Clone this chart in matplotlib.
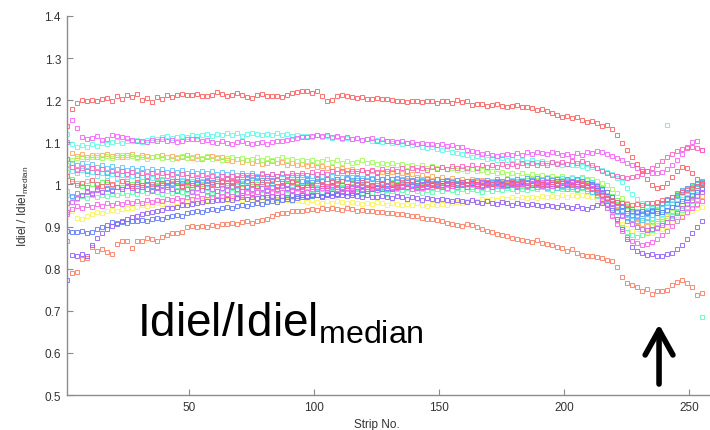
#!/usr/bin/env python3

import colorsys

import matplotlib

matplotlib.use("Agg")
import matplotlib.pyplot as plt
import numpy as np


# strips are sampled every second channel: 1, 3, ..., 255
STRIPS = np.arange(1, 257, 2)

RED_TOP = [
	1.139, 1.180, 1.193, 1.200, 1.198, 1.201, 1.199, 1.203, 1.206, 1.199, 1.210, 1.204, 1.212, 1.207, 1.214, 1.200,
	1.205, 1.196, 1.208, 1.203, 1.212, 1.208, 1.213, 1.214, 1.212, 1.213, 1.214, 1.211, 1.209, 1.213, 1.220, 1.214,
	1.210, 1.212, 1.216, 1.213, 1.208, 1.206, 1.212, 1.215, 1.209, 1.210, 1.211, 1.208, 1.213, 1.218, 1.220, 1.222,
	1.222, 1.218, 1.221, 1.209, 1.198, 1.201, 1.210, 1.213, 1.211, 1.207, 1.206, 1.208, 1.204, 1.203, 1.205, 1.202,
	1.203, 1.201, 1.198, 1.197, 1.196, 1.198, 1.199, 1.196, 1.197, 1.198, 1.194, 1.197, 1.199, 1.193, 1.200, 1.196,
	1.197, 1.189, 1.192, 1.190, 1.186, 1.188, 1.192, 1.187, 1.184, 1.186, 1.188, 1.183, 1.185, 1.182, 1.177, 1.179,
	1.174, 1.170, 1.166, 1.160, 1.162, 1.157, 1.161, 1.153, 1.149, 1.151, 1.146, 1.139, 1.141, 1.131, 1.118, 1.098,
	1.082, 1.065, 1.048, 1.031, 1.012, 0.998, 0.991, 0.993, 1.004, 1.018, 1.031, 1.042, 1.038, 1.026, 1.012, 1.004,
]

ORANGE_LOW = [
	0.866, 0.790, 0.792, 0.822, 0.826, 0.851, 0.842, 0.846, 0.840, 0.835, 0.858, 0.866, 0.865, 0.849, 0.866, 0.866,
	0.873, 0.870, 0.866, 0.875, 0.880, 0.885, 0.884, 0.887, 0.899, 0.901, 0.898, 0.902, 0.899, 0.904, 0.902, 0.905,
	0.906, 0.908, 0.907, 0.911, 0.913, 0.909, 0.912, 0.916, 0.919, 0.925, 0.930, 0.933, 0.931, 0.936, 0.938, 0.937,
	0.939, 0.941, 0.940, 0.943, 0.941, 0.944, 0.942, 0.940, 0.943, 0.941, 0.938, 0.940, 0.937, 0.936, 0.934, 0.935,
	0.933, 0.931, 0.929, 0.930, 0.927, 0.925, 0.926, 0.921, 0.918, 0.919, 0.915, 0.912, 0.909, 0.906, 0.904, 0.902,
	0.906, 0.903, 0.898, 0.894, 0.890, 0.887, 0.882, 0.879, 0.877, 0.873, 0.870, 0.868, 0.866, 0.864, 0.867, 0.862,
	0.858, 0.855, 0.851, 0.848, 0.843, 0.846, 0.838, 0.832, 0.829, 0.830, 0.828, 0.826, 0.820, 0.818, 0.805, 0.780,
	0.766, 0.761, 0.756, 0.747, 0.752, 0.740, 0.747, 0.747, 0.749, 0.761, 0.768, 0.773, 0.766, 0.756, 0.737, 0.742,
]

MAGENTA_HI = [
	1.100, 1.153, 1.134, 1.112, 1.108, 1.110, 1.114, 1.106, 1.109, 1.118, 1.116, 1.112, 1.110, 1.106, 1.102, 1.104,
	1.101, 1.106, 1.104, 1.108, 1.103, 1.105, 1.100, 1.103, 1.107, 1.109, 1.108, 1.104, 1.106, 1.101, 1.098, 1.103,
	1.099, 1.096, 1.100, 1.102, 1.098, 1.095, 1.099, 1.101, 1.097, 1.100, 1.104, 1.102, 1.106, 1.108, 1.111, 1.113,
	1.112, 1.115, 1.117, 1.114, 1.118, 1.112, 1.116, 1.110, 1.113, 1.109, 1.111, 1.106, 1.108, 1.110, 1.104, 1.107,
	1.103, 1.104, 1.100, 1.102, 1.098, 1.101, 1.096, 1.099, 1.095, 1.097, 1.093, 1.095, 1.091, 1.094, 1.090, 1.088,
	1.082, 1.079, 1.076, 1.073, 1.075, 1.071, 1.068, 1.070, 1.072, 1.069, 1.074, 1.071, 1.076, 1.073, 1.078, 1.075,
	1.072, 1.077, 1.074, 1.070, 1.073, 1.068, 1.075, 1.071, 1.078, 1.074, 1.080, 1.076, 1.072, 1.068, 1.063, 1.058,
	1.051, 1.046, 1.040, 1.036, 1.031, 1.028, 1.026, 1.030, 1.036, 1.045, 1.058, 1.072, 1.088, 1.100, 1.104, 1.082,
]

CYAN_HI = [
	1.120, 1.095, 1.090, 1.093, 1.088, 1.096, 1.092, 1.099, 1.097, 1.101, 1.103, 1.099, 1.104, 1.102, 1.106, 1.101,
	1.106, 1.110, 1.108, 1.112, 1.115, 1.110, 1.113, 1.116, 1.112, 1.118, 1.114, 1.117, 1.119, 1.115, 1.120, 1.117,
	1.121, 1.118, 1.122, 1.116, 1.119, 1.123, 1.120, 1.117, 1.120, 1.118, 1.121, 1.117, 1.119, 1.116, 1.118, 1.114,
	1.116, 1.113, 1.117, 1.112, 1.114, 1.110, 1.113, 1.109, 1.111, 1.107, 1.110, 1.105, 1.107, 1.103, 1.106, 1.101,
	1.103, 1.099, 1.101, 1.096, 1.098, 1.093, 1.095, 1.090, 1.087, 1.089, 1.084, 1.081, 1.083, 1.078, 1.075, 1.072,
	1.070, 1.066, 1.068, 1.064, 1.061, 1.063, 1.059, 1.062, 1.058, 1.060, 1.056, 1.058, 1.054, 1.057, 1.053, 1.055,
	1.051, 1.054, 1.050, 1.047, 1.049, 1.045, 1.047, 1.043, 1.040, 1.042, 1.038, 1.034, 1.030, 1.024, 1.016, 1.006,
	0.992, 0.978, 0.966, 0.955, 0.948, 0.944, 0.941, 0.945, 0.949, 0.956, 0.962, 0.971, 0.979, 0.988, 0.996, 1.003,
]

LIME_HI = [
	1.040, 1.058, 1.062, 1.066, 1.060, 1.064, 1.069, 1.063, 1.067, 1.062, 1.066, 1.070, 1.064, 1.068, 1.063, 1.066,
	1.061, 1.065, 1.068, 1.063, 1.066, 1.061, 1.064, 1.068, 1.062, 1.065, 1.060, 1.063, 1.067, 1.061, 1.064, 1.059,
	1.062, 1.066, 1.060, 1.063, 1.058, 1.061, 1.065, 1.059, 1.062, 1.057, 1.060, 1.064, 1.058, 1.061, 1.056, 1.059,
	1.055, 1.058, 1.053, 1.056, 1.060, 1.054, 1.057, 1.052, 1.055, 1.050, 1.053, 1.057, 1.051, 1.054, 1.049, 1.052,
	1.048, 1.051, 1.046, 1.049, 1.044, 1.047, 1.042, 1.045, 1.040, 1.043, 1.038, 1.041, 1.036, 1.039, 1.034, 1.037,
	1.033, 1.036, 1.031, 1.034, 1.029, 1.032, 1.027, 1.030, 1.025, 1.028, 1.023, 1.026, 1.021, 1.024, 1.019, 1.022,
	1.018, 1.021, 1.016, 1.019, 1.014, 1.017, 1.012, 1.015, 1.010, 1.013, 1.008, 1.004, 0.998, 0.990, 0.979, 0.968,
	0.955, 0.944, 0.932, 0.921, 0.914, 0.910, 0.912, 0.918, 0.926, 0.935, 0.944, 0.952, 0.960, 0.968, 0.975, 0.983,
]

ORANGE_HI = [
	1.030, 1.075, 1.068, 1.072, 1.066, 1.070, 1.064, 1.069, 1.073, 1.067, 1.071, 1.065, 1.069, 1.072, 1.066, 1.070,
	1.068, 1.064, 1.067, 1.071, 1.065, 1.068, 1.062, 1.066, 1.069, 1.063, 1.067, 1.061, 1.064, 1.068, 1.062, 1.065,
	1.059, 1.056, 1.060, 1.054, 1.057, 1.051, 1.055, 1.049, 1.052, 1.056, 1.050, 1.053, 1.047, 1.051, 1.045, 1.048,
	1.043, 1.047, 1.041, 1.044, 1.038, 1.042, 1.036, 1.040, 1.034, 1.037, 1.031, 1.035, 1.029, 1.033, 1.027, 1.030,
	1.026, 1.029, 1.023, 1.027, 1.021, 1.024, 1.018, 1.022, 1.016, 1.020, 1.014, 1.017, 1.011, 1.015, 1.010, 1.013,
	1.009, 1.012, 1.006, 1.010, 1.004, 1.008, 1.002, 1.006, 1.000, 1.004, 0.998, 1.002, 0.996, 1.000, 0.994, 0.998,
	0.993, 0.997, 0.991, 0.995, 0.989, 0.993, 0.987, 0.991, 0.985, 0.989, 0.983, 0.978, 0.970, 0.960, 0.949, 0.938,
	0.927, 0.918, 0.911, 0.906, 0.902, 0.904, 0.908, 0.913, 0.920, 0.928, 0.936, 0.945, 0.953, 0.960, 0.966, 0.972,
]

BLUE_LOW = [
	0.890, 0.887, 0.886, 0.889, 0.884, 0.887, 0.893, 0.898, 0.904, 0.910, 0.907, 0.911, 0.909, 0.913, 0.912, 0.916,
	0.914, 0.918, 0.921, 0.919, 0.923, 0.925, 0.928, 0.926, 0.931, 0.934, 0.937, 0.935, 0.939, 0.942, 0.940, 0.944,
	0.946, 0.943, 0.948, 0.951, 0.949, 0.953, 0.956, 0.954, 0.958, 0.961, 0.959, 0.963, 0.966, 0.964, 0.968, 0.970,
	0.969, 0.972, 0.975, 0.973, 0.977, 0.979, 0.976, 0.981, 0.983, 0.980, 0.985, 0.987, 0.984, 0.989, 0.991, 0.988,
	0.992, 0.990, 0.994, 0.996, 0.993, 0.997, 0.999, 0.995, 1.000, 0.998, 1.002, 0.999, 1.003, 1.001, 0.998, 1.002,
	1.000, 1.004, 1.001, 0.997, 1.003, 1.000, 1.005, 1.002, 0.998, 1.004, 1.001, 1.006, 1.003, 0.999, 1.004, 1.001,
	1.005, 1.002, 0.998, 1.003, 1.000, 1.006, 1.002, 0.999, 1.004, 1.001, 0.996, 0.990, 0.981, 0.969, 0.958, 0.949,
	0.942, 0.937, 0.935, 0.938, 0.932, 0.936, 0.931, 0.934, 0.940, 0.946, 0.953, 0.961, 0.968, 0.975, 0.982, 0.990,
]

VIOLET_LOW = [
	0.772, 0.832, 0.830, 0.834, 0.829, 0.856, 0.872, 0.884, 0.893, 0.901, 0.908, 0.914, 0.918, 0.922, 0.925, 0.929,
	0.932, 0.935, 0.937, 0.940, 0.943, 0.945, 0.947, 0.950, 0.952, 0.954, 0.956, 0.958, 0.960, 0.961, 0.963, 0.964,
	0.966, 0.963, 0.967, 0.969, 0.966, 0.970, 0.968, 0.971, 0.969, 0.972, 0.970, 0.973, 0.971, 0.974, 0.972, 0.975,
	0.973, 0.976, 0.974, 0.971, 0.975, 0.973, 0.977, 0.974, 0.972, 0.976, 0.973, 0.970, 0.974, 0.971, 0.969, 0.973,
	0.970, 0.968, 0.972, 0.969, 0.966, 0.970, 0.967, 0.964, 0.968, 0.965, 0.962, 0.966, 0.963, 0.960, 0.964, 0.961,
	0.958, 0.962, 0.959, 0.956, 0.960, 0.957, 0.954, 0.958, 0.955, 0.952, 0.956, 0.953, 0.950, 0.954, 0.951, 0.948,
	0.952, 0.949, 0.946, 0.950, 0.947, 0.944, 0.948, 0.945, 0.942, 0.946, 0.950, 0.955, 0.951, 0.940, 0.918, 0.893,
	0.870, 0.852, 0.843, 0.838, 0.833, 0.836, 0.831, 0.829, 0.834, 0.838, 0.846, 0.857, 0.871, 0.885, 0.899, 0.912,
]

YELLOW_MID = [
	0.945, 0.936, 0.921, 0.918, 0.926, 0.930, 0.934, 0.931, 0.936, 0.940, 0.938, 0.942, 0.945, 0.943, 0.947, 0.950,
	0.948, 0.952, 0.955, 0.953, 0.957, 0.955, 0.959, 0.961, 0.958, 0.962, 0.960, 0.964, 0.962, 0.965, 0.963, 0.966,
	0.964, 0.967, 0.965, 0.962, 0.966, 0.963, 0.967, 0.964, 0.961, 0.965, 0.962, 0.966, 0.963, 0.960, 0.964, 0.961,
	0.958, 0.962, 0.959, 0.956, 0.960, 0.957, 0.961, 0.958, 0.955, 0.959, 0.956, 0.953, 0.957, 0.954, 0.958, 0.955,
	0.952, 0.956, 0.953, 0.950, 0.954, 0.951, 0.955, 0.952, 0.949, 0.953, 0.950, 0.954, 0.951, 0.955, 0.958, 0.956,
	0.960, 0.963, 0.961, 0.965, 0.962, 0.966, 0.964, 0.968, 0.965, 0.969, 0.966, 0.970, 0.967, 0.971, 0.968, 0.972,
	0.969, 0.973, 0.970, 0.974, 0.971, 0.975, 0.972, 0.976, 0.973, 0.970, 0.966, 0.958, 0.946, 0.931, 0.917, 0.905,
	0.896, 0.889, 0.884, 0.881, 0.886, 0.884, 0.889, 0.894, 0.901, 0.910, 0.918, 0.926, 0.933, 0.938, 0.943, 0.947,
]

GREEN_MID = [
	0.985, 1.012, 1.004, 0.996, 1.008, 1.001, 0.993, 1.006, 1.011, 0.999, 1.003, 0.995, 1.009, 1.002, 0.997, 1.007,
	1.001, 0.994, 1.005, 1.010, 0.998, 1.003, 0.996, 1.008, 1.002, 0.995, 1.006, 1.000, 0.993, 1.004, 1.009, 0.998,
	1.003, 0.997, 1.008, 1.001, 0.995, 1.006, 1.000, 1.010, 0.998, 1.004, 0.996, 1.007, 1.002, 0.994, 1.005, 0.999,
	1.006, 1.001, 0.995, 1.008, 1.003, 0.997, 1.009, 1.002, 0.996, 1.005, 1.010, 0.999, 1.004, 0.998, 1.007, 1.001,
	0.996, 1.006, 1.002, 0.995, 1.008, 1.001, 0.997, 1.005, 1.009, 0.999, 1.003, 0.996, 1.007, 1.002, 0.998, 1.006,
	1.001, 0.995, 1.007, 1.003, 0.998, 1.009, 1.002, 0.996, 1.005, 1.000, 1.008, 0.997, 1.003, 1.007, 0.999, 1.004,
	0.998, 1.005, 1.001, 0.996, 1.007, 1.002, 0.997, 1.004, 0.999, 1.006, 0.995, 0.991, 0.982, 0.972, 0.963, 0.955,
	0.948, 0.942, 0.938, 0.941, 0.936, 0.943, 0.948, 0.955, 0.962, 0.970, 0.978, 0.985, 0.991, 0.997, 1.002, 1.006,
]

CYAN_MID = [
	1.045, 1.032, 1.028, 1.035, 1.024, 1.030, 1.021, 1.027, 1.019, 1.025, 1.016, 1.022, 1.014, 1.020, 1.012, 1.018,
	1.010, 1.016, 1.008, 1.014, 1.006, 1.012, 1.004, 1.010, 1.003, 1.009, 1.001, 1.007, 1.000, 1.006, 0.998, 1.005,
	0.999, 1.004, 0.997, 1.003, 0.996, 1.002, 0.995, 1.001, 0.994, 1.000, 0.993, 0.999, 0.992, 0.998, 0.991, 0.997,
	0.993, 0.998, 0.991, 0.997, 0.990, 0.996, 0.989, 0.995, 0.988, 0.994, 0.990, 0.996, 0.989, 0.995, 0.991, 0.997,
	0.992, 0.998, 0.993, 0.999, 0.994, 1.000, 0.995, 1.001, 0.996, 1.002, 0.997, 1.003, 0.998, 1.004, 0.999, 1.005,
	1.000, 1.006, 1.001, 1.007, 1.002, 1.008, 1.003, 1.009, 1.004, 1.010, 1.005, 1.011, 1.006, 1.012, 1.007, 1.013,
	1.008, 1.014, 1.009, 1.015, 1.010, 1.016, 1.011, 1.017, 1.012, 1.006, 0.998, 0.987, 0.975, 0.962, 0.951, 0.940,
	0.931, 0.924, 0.918, 0.915, 0.913, 0.917, 0.922, 0.929, 0.938, 0.947, 0.957, 0.966, 0.974, 0.981, 0.987, 0.992,
]

BLUE_MID = [
	0.955, 0.972, 0.980, 0.975, 0.984, 0.979, 0.988, 0.983, 0.991, 0.986, 0.994, 0.989, 0.997, 0.992, 1.000, 0.995,
	1.002, 0.997, 1.004, 0.999, 1.006, 1.001, 1.008, 1.003, 1.009, 1.004, 1.010, 1.005, 1.011, 1.006, 1.012, 1.007,
	1.013, 1.008, 1.014, 1.009, 1.015, 1.010, 1.016, 1.011, 1.015, 1.010, 1.014, 1.009, 1.013, 1.008, 1.012, 1.007,
	1.011, 1.006, 1.012, 1.007, 1.013, 1.008, 1.014, 1.009, 1.015, 1.010, 1.016, 1.011, 1.017, 1.012, 1.018, 1.013,
	1.017, 1.012, 1.016, 1.011, 1.015, 1.010, 1.014, 1.009, 1.013, 1.008, 1.012, 1.007, 1.011, 1.006, 1.010, 1.005,
	1.009, 1.004, 1.010, 1.005, 1.011, 1.006, 1.012, 1.007, 1.013, 1.008, 1.014, 1.009, 1.015, 1.010, 1.016, 1.011,
	1.015, 1.010, 1.014, 1.009, 1.013, 1.008, 1.012, 1.007, 1.003, 0.996, 0.987, 0.976, 0.965, 0.955, 0.946, 0.938,
	0.932, 0.928, 0.925, 0.929, 0.934, 0.940, 0.947, 0.955, 0.963, 0.971, 0.979, 0.986, 0.992, 0.998, 1.003, 1.008,
]

PURPLE_MID = [
	0.935, 0.958, 0.968, 0.975, 0.981, 0.978, 0.986, 0.982, 0.990, 0.985, 0.993, 0.988, 0.996, 0.991, 0.987, 0.994,
	0.989, 0.984, 0.992, 0.987, 0.995, 0.990, 0.985, 0.993, 0.988, 0.983, 0.991, 0.986, 0.994, 0.989, 0.984, 0.992,
	0.987, 0.995, 0.990, 0.985, 0.993, 0.988, 0.996, 0.991, 0.986, 0.994, 0.989, 0.997, 0.992, 0.987, 0.995, 0.990,
	0.998, 0.993, 0.988, 0.996, 0.991, 0.999, 0.994, 0.989, 0.997, 0.992, 1.000, 0.995, 0.990, 0.998, 0.993, 1.001,
	0.996, 0.991, 0.999, 0.994, 1.002, 0.997, 0.992, 1.000, 0.995, 1.003, 0.998, 0.993, 1.001, 0.996, 1.004, 0.999,
	0.994, 1.002, 0.997, 1.005, 1.000, 0.995, 1.003, 0.998, 1.006, 1.001, 0.996, 1.004, 0.999, 1.007, 1.002, 0.997,
	1.005, 1.000, 1.008, 1.003, 0.998, 1.006, 1.001, 1.009, 1.004, 0.999, 0.992, 0.981, 0.968, 0.953, 0.938, 0.925,
	0.914, 0.905, 0.899, 0.894, 0.891, 0.893, 0.897, 0.903, 0.911, 0.921, 0.932, 0.943, 0.954, 0.964, 0.973, 0.981,
]

PINK_MID = [
	1.060, 1.042, 1.035, 1.040, 1.032, 1.038, 1.029, 1.036, 1.027, 1.033, 1.025, 1.031, 1.024, 1.030, 1.022, 1.028,
	1.021, 1.027, 1.020, 1.026, 1.019, 1.025, 1.018, 1.024, 1.017, 1.023, 1.016, 1.022, 1.015, 1.021, 1.014, 1.020,
	1.015, 1.021, 1.016, 1.022, 1.017, 1.023, 1.018, 1.024, 1.019, 1.025, 1.020, 1.026, 1.021, 1.027, 1.022, 1.028,
	1.023, 1.029, 1.024, 1.030, 1.025, 1.031, 1.026, 1.032, 1.027, 1.033, 1.028, 1.034, 1.029, 1.035, 1.030, 1.036,
	1.031, 1.037, 1.032, 1.038, 1.033, 1.039, 1.034, 1.040, 1.035, 1.041, 1.036, 1.042, 1.037, 1.043, 1.038, 1.044,
	1.039, 1.045, 1.040, 1.046, 1.041, 1.047, 1.042, 1.048, 1.043, 1.049, 1.044, 1.050, 1.045, 1.051, 1.046, 1.052,
	1.047, 1.053, 1.048, 1.054, 1.049, 1.055, 1.050, 1.056, 1.051, 1.046, 1.040, 1.033, 1.027, 1.022, 1.019, 1.017,
	1.016, 1.018, 1.021, 1.025, 1.031, 1.038, 1.046, 1.055, 1.064, 1.072, 1.079, 1.084, 1.087, 1.088, 1.086, 1.081,
]

RED_MID = [
	1.020, 1.008, 0.998, 1.004, 0.995, 1.010, 1.002, 0.997, 1.006, 1.000, 0.994, 1.008, 1.003, 0.996, 1.005, 0.999,
	1.007, 1.001, 0.995, 1.004, 0.998, 1.009, 1.003, 0.997, 1.006, 0.999, 1.004, 0.996, 1.008, 1.002, 0.998, 1.005,
	0.999, 1.006, 1.001, 0.995, 1.008, 1.002, 0.997, 1.005, 1.000, 1.007, 0.996, 1.003, 0.998, 1.006, 1.001, 0.995,
	1.004, 0.999, 1.007, 1.002, 0.996, 1.005, 1.001, 1.008, 0.997, 1.003, 0.999, 1.006, 1.002, 0.996, 1.004, 1.000,
	1.007, 1.002, 0.997, 1.005, 1.000, 1.008, 1.003, 0.998, 1.006, 1.001, 0.996, 1.004, 1.009, 1.002, 0.998, 1.005,
	1.001, 1.007, 1.002, 0.998, 1.006, 1.001, 1.009, 1.003, 0.999, 1.005, 1.000, 1.008, 1.004, 0.998, 1.006, 1.002,
	0.999, 1.006, 1.001, 1.008, 1.003, 0.998, 1.005, 1.000, 0.996, 0.990, 0.983, 0.975, 0.968, 0.962, 0.958, 0.955,
	0.953, 0.951, 0.954, 0.952, 0.956, 0.955, 0.959, 0.962, 0.966, 0.971, 0.976, 0.982, 0.987, 0.992, 0.996, 1.000,
]

SPRING_MID = [
	0.975, 0.969, 0.966, 0.972, 0.968, 0.974, 0.970, 0.976, 0.972, 0.978, 0.974, 0.980, 0.976, 0.982, 0.978, 0.984,
	0.980, 0.986, 0.982, 0.978, 0.984, 0.980, 0.986, 0.982, 0.978, 0.984, 0.980, 0.986, 0.982, 0.978, 0.984, 0.980,
	0.976, 0.982, 0.978, 0.974, 0.980, 0.976, 0.982, 0.978, 0.974, 0.980, 0.976, 0.982, 0.978, 0.974, 0.980, 0.976,
	0.982, 0.978, 0.974, 0.980, 0.976, 0.982, 0.978, 0.984, 0.980, 0.976, 0.982, 0.978, 0.984, 0.980, 0.986, 0.982,
	0.978, 0.984, 0.980, 0.986, 0.982, 0.988, 0.984, 0.980, 0.986, 0.982, 0.988, 0.984, 0.990, 0.986, 0.982, 0.988,
	0.984, 0.990, 0.986, 0.982, 0.988, 0.984, 0.990, 0.986, 0.992, 0.988, 0.984, 0.990, 0.986, 0.992, 0.988, 0.994,
	0.990, 0.986, 0.992, 0.988, 0.994, 0.990, 0.986, 0.992, 0.988, 0.982, 0.973, 0.960, 0.945, 0.928, 0.912, 0.898,
	0.888, 0.880, 0.876, 0.879, 0.884, 0.891, 0.899, 0.908, 1.141, 0.926, 0.934, 0.940, 0.946, 0.950, 0.952, 0.685,
]

AZURE_MID = [
	1.060, 1.052, 1.046, 1.050, 1.043, 1.048, 1.041, 1.046, 1.039, 1.044, 1.037, 1.042, 1.035, 1.040, 1.034, 1.038,
	1.032, 1.037, 1.031, 1.036, 1.030, 1.035, 1.029, 1.034, 1.028, 1.033, 1.027, 1.032, 1.026, 1.031, 1.025, 1.030,
	1.024, 1.029, 1.023, 1.028, 1.022, 1.027, 1.021, 1.026, 1.020, 1.025, 1.019, 1.024, 1.018, 1.023, 1.017, 1.022,
	1.016, 1.021, 1.015, 1.020, 1.014, 1.019, 1.013, 1.018, 1.012, 1.017, 1.011, 1.016, 1.010, 1.015, 1.009, 1.014,
	1.008, 1.013, 1.007, 1.012, 1.006, 1.011, 1.005, 1.010, 1.004, 1.009, 1.003, 1.008, 1.002, 1.007, 1.001, 1.006,
	1.000, 1.005, 0.999, 1.004, 0.998, 1.003, 0.997, 1.002, 0.996, 1.001, 0.995, 1.000, 0.994, 0.999, 0.993, 0.998,
	0.992, 0.997, 0.991, 0.996, 0.990, 0.995, 0.989, 0.994, 0.988, 0.982, 0.974, 0.964, 0.953, 0.943, 0.934, 0.927,
	0.921, 0.917, 0.914, 0.916, 0.921, 0.928, 0.936, 0.945, 0.955, 0.964, 0.973, 0.981, 0.988, 0.995, 1.001, 1.006,
]

MAGENTA_MID = [
	0.930, 0.942, 0.948, 0.944, 0.951, 0.947, 0.953, 0.949, 0.955, 0.951, 0.957, 0.953, 0.959, 0.955, 0.961, 0.957,
	0.962, 0.958, 0.964, 0.960, 0.966, 0.962, 0.968, 0.964, 0.970, 0.966, 0.972, 0.968, 0.974, 0.970, 0.976, 0.972,
	0.977, 0.973, 0.979, 0.975, 0.981, 0.977, 0.983, 0.979, 0.985, 0.981, 0.987, 0.983, 0.989, 0.985, 0.991, 0.987,
	0.983, 0.989, 0.985, 0.991, 0.987, 0.993, 0.989, 0.985, 0.991, 0.987, 0.993, 0.989, 0.995, 0.991, 0.987, 0.993,
	0.989, 0.995, 0.991, 0.997, 0.993, 0.989, 0.995, 0.991, 0.997, 0.993, 0.999, 0.995, 0.991, 0.997, 0.993, 0.999,
	0.995, 1.001, 0.997, 0.993, 0.999, 0.995, 1.001, 0.997, 1.003, 0.999, 0.995, 1.001, 0.997, 1.003, 0.999, 1.005,
	1.001, 0.997, 1.003, 0.999, 1.005, 1.001, 0.997, 1.003, 0.999, 0.991, 0.979, 0.963, 0.944, 0.924, 0.905, 0.889,
	0.876, 0.866, 0.860, 0.857, 0.859, 0.864, 0.871, 0.880, 0.890, 0.901, 0.912, 0.923, 0.934, 0.944, 0.953, 0.961,
]

# (values, hue) pairs, hue in [0, 1) on the hsv wheel
SERIES = [
	(ORANGE_LOW, 0.03),
	(ORANGE_HI, 0.08),
	(YELLOW_MID, 0.16),
	(LIME_HI, 0.26),
	(GREEN_MID, 0.33),
	(SPRING_MID, 0.42),
	(CYAN_HI, 0.48),
	(CYAN_MID, 0.52),
	(AZURE_MID, 0.56),
	(BLUE_MID, 0.60),
	(BLUE_LOW, 0.64),
	(VIOLET_LOW, 0.72),
	(PURPLE_MID, 0.78),
	(MAGENTA_MID, 0.85),
	(MAGENTA_HI, 0.83),
	(PINK_MID, 0.90),
	(RED_MID, 0.97),
	(RED_TOP, 0.0),
]

Y_TICKS = [0.5, 0.6, 0.7, 0.8, 0.9, 1.0, 1.1, 1.2, 1.3, 1.4]
Y_TICK_LABELS = ["0.5", "0.6", "0.7", "0.8", "0.9", "1", "1.1", "1.2", "1.3", "1.4"]
X_TICKS = [50, 100, 150, 200, 250]


def main() -> None:
	plt.rcParams["font.family"] = ["Liberation Sans", "DejaVu Sans"]
	plt.rcParams["mathtext.fontset"] = "custom"
	plt.rcParams["mathtext.rm"] = "Liberation Sans"
	plt.rcParams["mathtext.it"] = "Liberation Sans"

	fig = plt.figure(figsize=(7.10, 4.31), dpi=100)
	ax = fig.add_axes([0.0937, 0.0812, 0.912, 0.8794])

	for values, hue in SERIES:
		color = colorsys.hsv_to_rgb(hue, 0.62, 0.98)
		ax.plot(
			STRIPS, values, linestyle="none", marker="s", markersize=2.6,
			markerfacecolor="none", markeredgecolor=color, markeredgewidth=0.75,
			alpha=0.85,
		)

	ax.set_xlim(1, 260)
	ax.set_ylim(0.5, 1.4)
	ax.set_yticks(Y_TICKS)
	ax.set_yticklabels(Y_TICK_LABELS)
	ax.set_xticks(X_TICKS)

	for side in ("top", "right"):
		ax.spines[side].set_visible(False)
	for side in ("left", "bottom"):
		ax.spines[side].set_color("#8c8c8c")
		ax.spines[side].set_linewidth(1.0)
	ax.tick_params(direction="in", length=4, width=0.8, color="#8c8c8c",
		labelsize=8.5, labelcolor="#333333", pad=4)

	ax.set_xlabel("Strip No.", fontsize=8.5, color="#333333")
	ax.xaxis.set_label_coords(0.48, -0.06)
	ax.set_ylabel(r"Idiel / Idiel$_{\mathregular{median}}$", fontsize=8.5, color="#333333")
	ax.yaxis.set_label_coords(-0.055, 0.5)

	ax.text(29, 0.642, r"Idiel/Idiel$_{\mathregular{median}}$", fontsize=33,
		ha="left", va="baseline", color="black")

	ax.annotate(
		"", xy=(238, 0.668), xytext=(238, 0.526),
		arrowprops=dict(arrowstyle="->,head_length=0.9,head_width=0.5",
			mutation_scale=20, lw=4, color="black", shrinkA=0, shrinkB=0),
	)

	fig.savefig("out.png", dpi=100)


if __name__ == "__main__":
	main()
